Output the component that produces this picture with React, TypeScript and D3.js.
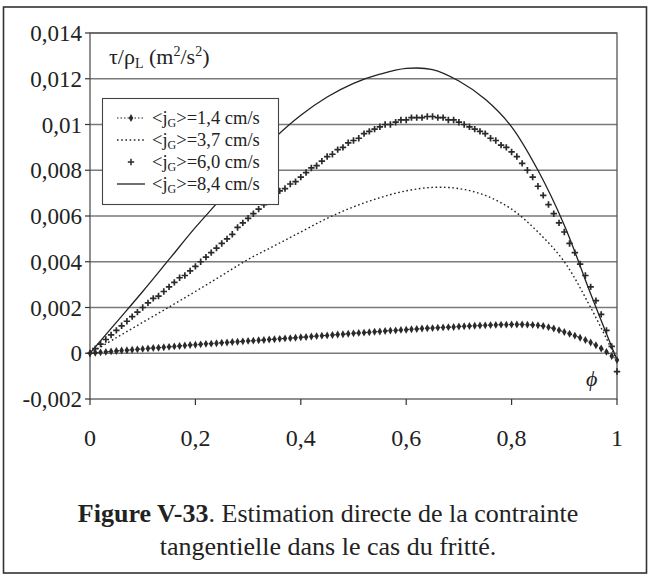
import * as d3 from 'd3';

// phi grid for the two line-only series (coarse) and the two marker series (fine)
const PHI_COARSE = [0, 0.05, 0.1, 0.15, 0.2, 0.25, 0.3, 0.35, 0.4, 0.45, 0.5, 0.55, 0.6, 0.65, 0.7, 0.75, 0.8, 0.85, 0.9, 0.95, 1];

const JG_37 = [0, 0.00068, 0.00135, 0.00202, 0.0027, 0.0034, 0.0041, 0.0047, 0.0053, 0.0059, 0.0064, 0.0068, 0.0071, 0.00725, 0.0072, 0.0069, 0.0063, 0.0053, 0.004, 0.002, -0.0003];
const JG_84 = [0, 0.00135, 0.0027, 0.0041, 0.0055, 0.0068, 0.0082, 0.0094, 0.0104, 0.0112, 0.0118, 0.0122, 0.01245, 0.0124, 0.0119, 0.0111, 0.0099, 0.008, 0.0056, 0.0026, -0.0003];

const PHI_FINE = [
  0, 0.01, 0.02, 0.03, 0.04, 0.05, 0.06, 0.07, 0.08, 0.09,
  0.1, 0.11, 0.12, 0.13, 0.14, 0.15, 0.16, 0.17, 0.18, 0.19,
  0.2, 0.21, 0.22, 0.23, 0.24, 0.25, 0.26, 0.27, 0.28, 0.29,
  0.3, 0.31, 0.32, 0.33, 0.34, 0.35, 0.36, 0.37, 0.38, 0.39,
  0.4, 0.41, 0.42, 0.43, 0.44, 0.45, 0.46, 0.47, 0.48, 0.49,
  0.5, 0.51, 0.52, 0.53, 0.54, 0.55, 0.56, 0.57, 0.58, 0.59,
  0.6, 0.61, 0.62, 0.63, 0.64, 0.65, 0.66, 0.67, 0.68, 0.69,
  0.7, 0.71, 0.72, 0.73, 0.74, 0.75, 0.76, 0.77, 0.78, 0.79,
  0.8, 0.81, 0.82, 0.83, 0.84, 0.85, 0.86, 0.87, 0.88, 0.89,
  0.9, 0.91, 0.92, 0.93, 0.94, 0.95, 0.96, 0.97, 0.98, 0.99, 1,
];

const JG_14 = [
  0, 0.00002, 0.00004, 0.00006, 0.00008, 0.0001, 0.00012, 0.00013, 0.00015, 0.00017,
  0.00019, 0.00021, 0.00023, 0.00024, 0.00026, 0.00028, 0.0003, 0.00032, 0.00034, 0.00036,
  0.00037, 0.00039, 0.00041, 0.00042, 0.00044, 0.00046, 0.00047, 0.00049, 0.0005, 0.00052,
  0.00054, 0.00055, 0.00057, 0.00058, 0.0006, 0.00061, 0.00063, 0.00065, 0.00066, 0.00068,
  0.0007, 0.00071, 0.00073, 0.00075, 0.00077, 0.00078, 0.0008, 0.00082, 0.00083, 0.00085,
  0.00087, 0.00089, 0.0009, 0.00092, 0.00094, 0.00095, 0.00097, 0.00099, 0.001, 0.00102,
  0.00103, 0.00105, 0.00106, 0.00108, 0.00109, 0.0011, 0.00112, 0.00113, 0.00114, 0.00115,
  0.00117, 0.00118, 0.00119, 0.0012, 0.00121, 0.00122, 0.00123, 0.00124, 0.00125, 0.00125,
  0.00126, 0.00126, 0.00126, 0.00125, 0.00124, 0.00122, 0.00119, 0.00114, 0.00108, 0.00101,
  0.00093, 0.00085, 0.00077, 0.00068, 0.00058, 0.00047, 0.00035, 0.00021, 0.00006, -0.00012, -0.0003,
];

const JG_60 = [
  0, 0.0002, 0.0004, 0.0006, 0.0008, 0.001, 0.0012, 0.0014, 0.0016, 0.0018,
  0.002, 0.0022, 0.0024, 0.0025, 0.0027, 0.0029, 0.0031, 0.0033, 0.0034, 0.0036,
  0.0038, 0.004, 0.0042, 0.0044, 0.0046, 0.0048, 0.005, 0.0052, 0.0055, 0.0057,
  0.0059, 0.0061, 0.0063, 0.0065, 0.0067, 0.0069, 0.0071, 0.0072, 0.0074, 0.0075,
  0.0077, 0.0079, 0.0081, 0.0082, 0.0084, 0.0086, 0.0087, 0.0089, 0.009, 0.0092,
  0.0093, 0.0094, 0.0096, 0.0097, 0.0098, 0.0099, 0.01, 0.01, 0.0101, 0.0102,
  0.0102, 0.0103, 0.0103, 0.0103, 0.01035, 0.01035, 0.0103, 0.0103, 0.0102, 0.0102,
  0.0101, 0.01, 0.0099, 0.0098, 0.0097, 0.0096, 0.0094, 0.0093, 0.0091, 0.009,
  0.0088, 0.0086, 0.0083, 0.008, 0.0077, 0.0073, 0.0069, 0.0065, 0.0061, 0.0057,
  0.0053, 0.0048, 0.0044, 0.0039, 0.0034, 0.0029, 0.0023, 0.0017, 0.001, 0.0003, -0.0008,
];

const Y_TICKS = [-0.002, 0, 0.002, 0.004, 0.006, 0.008, 0.01, 0.012, 0.014];
const Y_LABELS = ['-0,002', '0', '0,002', '0,004', '0,006', '0,008', '0,01', '0,012', '0,014'];
const X_TICKS = [0, 0.2, 0.4, 0.6, 0.8, 1];
const X_LABELS = ['0', '0,2', '0,4', '0,6', '0,8', '1'];
const LEGEND = ['1,4', '3,7', '6,0', '8,4'];

const FONT = '"Liberation Serif", "Times New Roman", serif';
const INK = '#222';

export default function App() {
  const x = d3.scaleLinear().domain([0, 1]).range([90, 617]);
  const y = d3.scaleLinear().domain([-0.002, 0.014]).range([399, 33]);

  const smooth = (xs: number[], ys: number[]) =>
    d3.line<number>().x((_, i) => x(xs[i])).y(d => y(d)).curve(d3.curveCatmullRom)(ys) ?? '';
  const straight = (xs: number[], ys: number[]) =>
    d3.line<number>().x((_, i) => x(xs[i])).y(d => y(d))(ys) ?? '';

  const diamond = d3.symbol(d3.symbolDiamond, 18)() ?? '';
  const plus = 'M-3.2,0H3.2M0,-3.2V3.2';

  const legendY = [118, 140, 162, 184];

  return (
    <svg width={650} height={581} style={{ position: 'absolute', left: 0, top: 0, background: '#fff' }}
      fontFamily={FONT}>
      <rect x={0} y={0} width={650} height={581} fill="#fff" />
      {/* outer figure frame */}
      <rect x={3.5} y={7} width={643} height={566} fill="none" stroke="#333" strokeWidth={1.6} />

      {/* gridlines */}
      {Y_TICKS.slice(1).map(t => (
        <line key={t} x1={x(0)} x2={x(1)} y1={y(t)} y2={y(t)} stroke="#7a7a7a" strokeWidth={1.3} />
      ))}
      <rect x={x(0)} y={y(0.014)} width={x(1) - x(0)} height={y(-0.002) - y(0.014)}
        fill="none" stroke="#555" strokeWidth={1.3} />

      {/* y axis ticks */}
      {Y_TICKS.map((t, i) => (
        <g key={t}>
          <line x1={x(0) - 5} x2={x(0)} y1={y(t)} y2={y(t)} stroke="#333" strokeWidth={1.2} />
          <text x={x(0) - 8} y={y(t)} dy="0.35em" textAnchor="end" fontSize={23} fill={INK}>{Y_LABELS[i]}</text>
        </g>
      ))}
      {/* x axis ticks */}
      {X_TICKS.map((t, i) => (
        <g key={t}>
          <line x1={x(t)} x2={x(t)} y1={y(-0.002)} y2={y(-0.002) + 6} stroke="#333" strokeWidth={1.2} />
          <text x={x(t)} y={446} textAnchor="middle" fontSize={24} fill={INK}>{X_LABELS[i]}</text>
        </g>
      ))}

      {/* series */}
      <path d={smooth(PHI_COARSE, JG_84)} fill="none" stroke={INK} strokeWidth={1.3} />
      <path d={smooth(PHI_COARSE, JG_37)} fill="none" stroke={INK} strokeWidth={1.4} strokeDasharray="1.6,2.6" />
      <path d={straight(PHI_FINE, JG_14)} fill="none" stroke={INK} strokeWidth={1.2} strokeDasharray="1.5,2" />
      {JG_14.map((v, i) => (
        <path key={'d' + i} d={diamond} transform={`translate(${x(PHI_FINE[i])},${y(v)})`} fill="#2a2a2a" />
      ))}
      {JG_60.map((v, i) => (
        <path key={'p' + i} d={plus} transform={`translate(${x(PHI_FINE[i])},${y(v)})`}
          fill="none" stroke="#2a2a2a" strokeWidth={1.7} />
      ))}

      {/* axis titles */}
      <text x={109} y={64} fontSize={22} fill={INK}>
        τ/ρ<tspan fontSize={14} dy={4}>L</tspan>
        <tspan dy={-4}> (m</tspan><tspan fontSize={14} dy={-8}>2</tspan>
        <tspan dy={8}>/s</tspan><tspan fontSize={14} dy={-8}>2</tspan><tspan dy={8}>)</tspan>
      </text>
      <text x={586} y={386} fontSize={22} fontStyle="italic" fill={INK}>ϕ</text>

      {/* legend */}
      <rect x={102.5} y={98.5} width={176} height={106} fill="#fff" stroke="#444" strokeWidth={1.1} />
      {LEGEND.map((lab, i) => {
        const ly = legendY[i];
        return (
          <g key={lab}>
            {i === 0 && (
              <>
                <line x1={117} x2={145} y1={ly} y2={ly} stroke={INK} strokeWidth={1.2} strokeDasharray="1.5,2" />
                <path d={diamond} transform={`translate(131,${ly})`} fill="#2a2a2a" />
              </>
            )}
            {i === 1 && (
              <line x1={117} x2={145} y1={ly} y2={ly} stroke={INK} strokeWidth={1.3} strokeDasharray="1.6,2.6" />
            )}
            {i === 2 && (
              <path d={plus} transform={`translate(131,${ly})`} fill="none" stroke="#2a2a2a" strokeWidth={1.5} />
            )}
            {i === 3 && <line x1={117} x2={145} y1={ly} y2={ly} stroke={INK} strokeWidth={1.3} />}
            <text x={152} y={ly + 6} fontSize={18.5} fill={INK}>
              {'<j'}<tspan fontSize={12} dy={3}>G</tspan><tspan dy={-3}>{`>=${lab} cm/s`}</tspan>
            </text>
          </g>
        );
      })}

      {/* caption */}
      <text x={328} y={522} textAnchor="middle" fontSize={26} fill={INK}>
        <tspan fontWeight="bold">Figure V-33</tspan>. Estimation directe de la contrainte
      </text>
      <text x={328} y={555} textAnchor="middle" fontSize={26} fill={INK}>
        tangentielle dans le cas du fritté.
      </text>
    </svg>
  );
}
